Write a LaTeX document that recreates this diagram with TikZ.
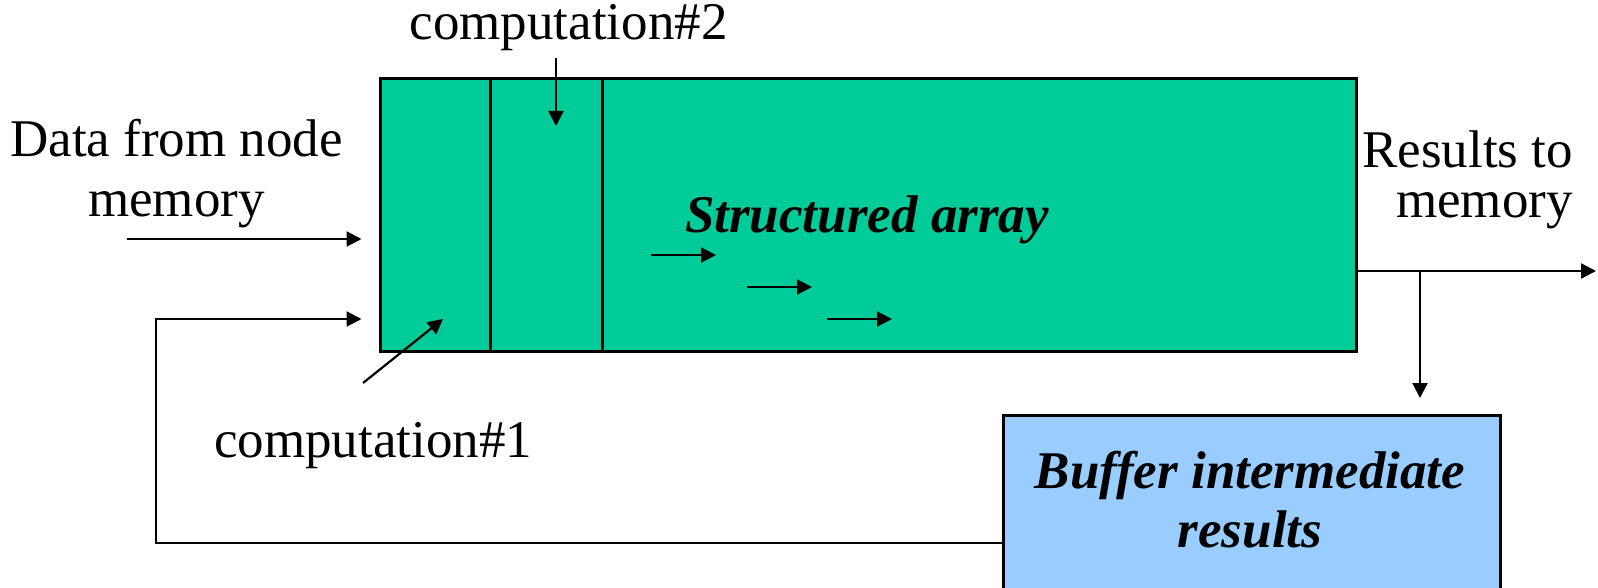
\documentclass[tikz,border=0pt]{standalone}
\usepackage{fontspec}
\setmainfont{Liberation Serif}
\usetikzlibrary{arrows.meta}
\definecolor{arrgreen}{HTML}{00CC99}
\definecolor{bufblue}{HTML}{99CCFF}
\tikzset{
  lbl/.style={font=\fontsize{53}{52}\selectfont, inner sep=0pt},
  bilbl/.style={font=\fontsize{53}{59}\selectfont\bfseries\itshape, inner sep=0pt},
  boxstyle/.style={draw=black, line width=3pt, inner sep=0pt},
  arr/.style={line width=2.2pt, -{Triangle[length=15pt,width=15pt]}},
}
\begin{document}
\begin{tikzpicture}[x=1pt,y=-1pt]
\useasboundingbox (0,0) rectangle (1598,588);
\clip (0,0) rectangle (1598,588);
\fill[white] (0,0) rectangle (1598,588);

% main structured array box
\node[boxstyle, fill=arrgreen, minimum width=976pt, minimum height=272pt] (main) at (868,215) {};
\draw[line width=2.5pt] ([xshift=112pt]main.north west) -- ([xshift=112pt]main.south west);
\draw[line width=2.5pt] ([xshift=224pt]main.north west) -- ([xshift=224pt]main.south west);

% buffer box
\node[boxstyle, fill=bufblue, minimum width=497pt, minimum height=240pt] (buf) at (1251.5,535) {};
\node[bilbl, align=center, anchor=base] (buftext) at (1250,547) {Buffer intermediate\\results};

% labels
\node[lbl, anchor=base] (comp2) at (568.5,40) {computation\#2};
\node[lbl, anchor=base] (comp1) at (373,457) {computation\#1};
\node[lbl, font=\fontsize{53}{60}\selectfont, align=center, anchor=base] (data) at (176.5,217) {Data from node\\memory};
\node[lbl, font=\fontsize{53}{50}\selectfont, align=right, anchor=base east] (res) at (1573,218) {Results to\\memory};
\node[bilbl, anchor=base] (sa) at (867,233) {Structured array};

% coordinates
\coordinate (din) at (127,239);
\coordinate (fb1) at (156,543);
\coordinate (fb2) at (156,319);
\coordinate (c1s) at (363,383);
\coordinate (c1e) at (443,319);
\coordinate (c2s) at (556,58);
\coordinate (c2e) at (556,126);
\coordinate (s1a) at (651,255);
\coordinate (s1b) at (716,255);
\coordinate (s2a) at (747,287);
\coordinate (s2b) at (812,287);
\coordinate (s3a) at (827,319);
\coordinate (s3b) at (892,319);
\coordinate (outy) at (1420,271);
\coordinate (outend) at (1596,271);
\coordinate (bufin) at (1420,398);

% connectors
\draw[arr, shorten >=17pt] (din) -- (din -| main.west);
\draw[arr, shorten >=17pt] (fb1 -| buf.west) -- (fb1) -- (fb2) -- (fb2 -| main.west);
\draw[arr] (c1s) -- (c1e);
\draw[arr] (c2s) -- (c2e);
\draw[arr] (s1a) -- (s1b);
\draw[arr] (s2a) -- (s2b);
\draw[arr] (s3a) -- (s3b);
\draw[arr] (outy -| main.east) -- (outend);
\draw[arr] (outy) -- (bufin);
\end{tikzpicture}
\end{document}
